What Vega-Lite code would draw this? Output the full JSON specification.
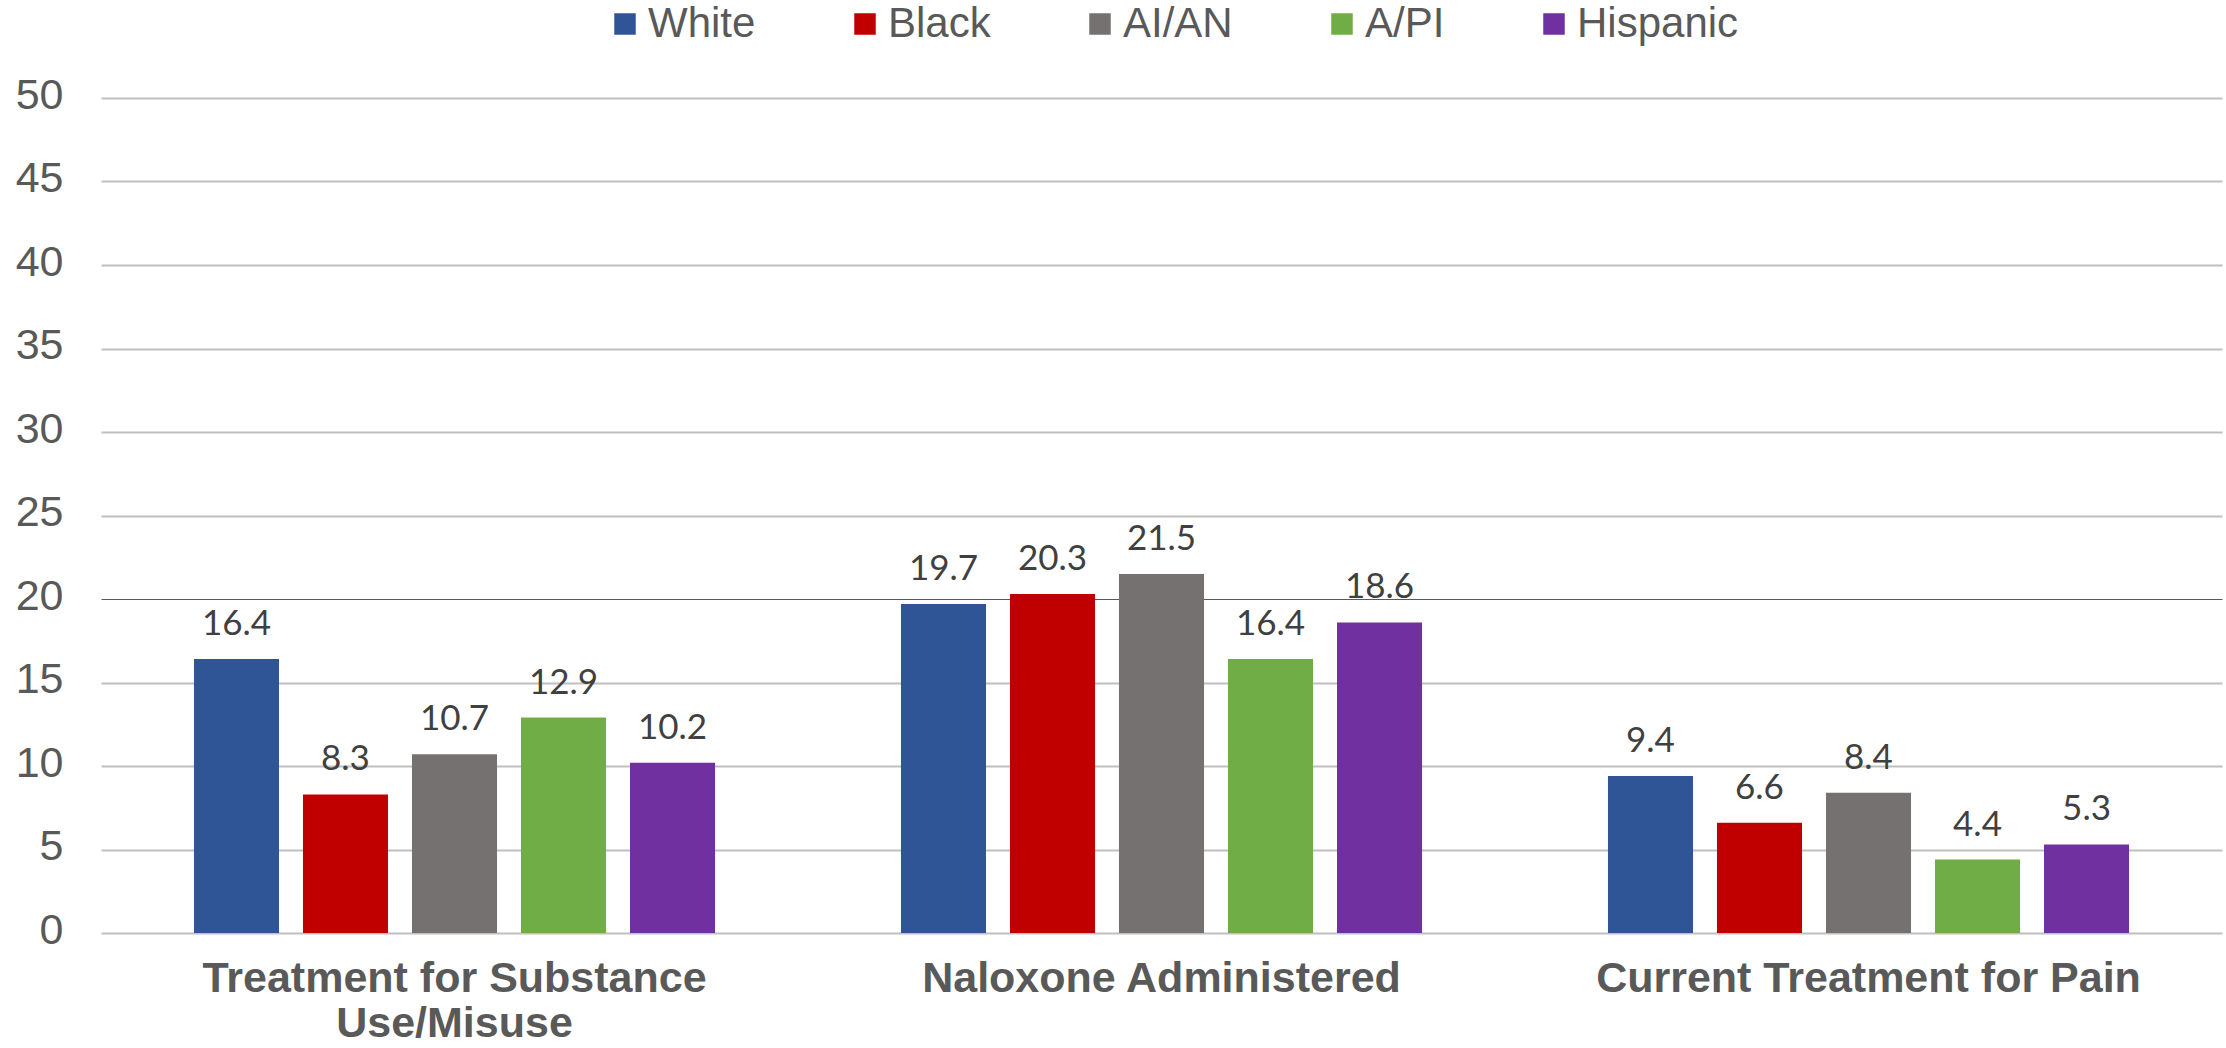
{
  "$schema": "https://vega.github.io/schema/vega-lite/v6.json",
  "autosize": {"type": "none"},
  "padding": {"left": 101, "top": 98, "right": 4, "bottom": 115},
  "width": 2121,
  "height": 835,
  "background": "white",
  "config": {"view": {"stroke": null}},
  "data": {
    "values": [
      {"category": "Treatment for Substance Use/Misuse", "race": "White", "value": 16.4},
      {"category": "Treatment for Substance Use/Misuse", "race": "Black", "value": 8.3},
      {"category": "Treatment for Substance Use/Misuse", "race": "AI/AN", "value": 10.7},
      {"category": "Treatment for Substance Use/Misuse", "race": "A/PI", "value": 12.9},
      {"category": "Treatment for Substance Use/Misuse", "race": "Hispanic", "value": 10.2},
      {"category": "Naloxone Administered", "race": "White", "value": 19.7},
      {"category": "Naloxone Administered", "race": "Black", "value": 20.3},
      {"category": "Naloxone Administered", "race": "AI/AN", "value": 21.5},
      {"category": "Naloxone Administered", "race": "A/PI", "value": 16.4},
      {"category": "Naloxone Administered", "race": "Hispanic", "value": 18.6},
      {"category": "Current Treatment for Pain", "race": "White", "value": 9.4},
      {"category": "Current Treatment for Pain", "race": "Black", "value": 6.6},
      {"category": "Current Treatment for Pain", "race": "AI/AN", "value": 8.4},
      {"category": "Current Treatment for Pain", "race": "A/PI", "value": 4.4},
      {"category": "Current Treatment for Pain", "race": "Hispanic", "value": 5.3}
    ]
  },
  "encoding": {
    "x": {
      "field": "category",
      "type": "nominal",
      "sort": ["Treatment for Substance Use/Misuse", "Naloxone Administered", "Current Treatment for Pain"],
      "scale": {"paddingInner": 0.263, "paddingOuter": 0.1315},
      "axis": {
        "title": null,
        "labelAngle": 0,
        "domain": false,
        "ticks": false,
        "labelFont": "Liberation Sans",
        "labelFontSize": 43,
        "labelFontWeight": "bold",
        "labelColor": "#595959",
        "labelPadding": 24,
        "labelLineHeight": 45,
        "labelLimit": 0,
        "labelExpr": "datum.value == 'Treatment for Substance Use/Misuse' ? ['Treatment for Substance', 'Use/Misuse'] : datum.value"
      }
    },
    "xOffset": {
      "field": "race",
      "type": "nominal",
      "scale": {"domain": ["White", "Black", "AI/AN", "A/PI", "Hispanic"], "paddingInner": 0.22, "paddingOuter": 0}
    },
    "y": {
      "field": "value",
      "type": "quantitative",
      "scale": {"domain": [0, 50], "nice": false},
      "axis": {
        "title": null,
        "values": [0, 5, 10, 15, 20, 25, 30, 35, 40, 45, 50],
        "domain": false,
        "ticks": false,
        "labelFont": "Liberation Sans",
        "labelFontSize": 43,
        "labelColor": "#595959",
        "labelPadding": 38,
        "labelOffset": -3,
        "gridColor": {"condition": {"test": "datum.value === 20", "value": "#595959"}, "value": "#BFBFBF"},
        "gridWidth": {"condition": {"test": "datum.value === 20", "value": 1.2}, "value": 2}
      }
    }
  },
  "layer": [
    {
      "mark": {"type": "bar"},
      "encoding": {
        "color": {
          "field": "race",
          "type": "nominal",
          "scale": {
            "domain": ["White", "Black", "AI/AN", "A/PI", "Hispanic"],
            "range": ["#2F5597", "#C00000", "#767171", "#70AD47", "#7030A0"]
          },
          "legend": {
            "title": null,
            "orient": "none",
            "direction": "horizontal",
            "legendX": 503,
            "legendY": -95,
            "padding": 0,
            "symbolType": "square",
            "symbolSize": 462,
            "symbolStrokeWidth": 0,
            "labelFont": "Liberation Sans",
            "labelFontSize": 42,
            "labelColor": "#595959",
            "labelOffset": 2,
            "labelLimit": 0,
            "columnPadding": 88
          }
        }
      }
    },
    {
      "mark": {"type": "text", "baseline": "alphabetic", "dy": -24, "font": "Lato", "fontSize": 35, "color": "#404040"},
      "encoding": {
        "text": {"field": "value", "type": "quantitative", "format": ".1f"}
      }
    }
  ]
}
